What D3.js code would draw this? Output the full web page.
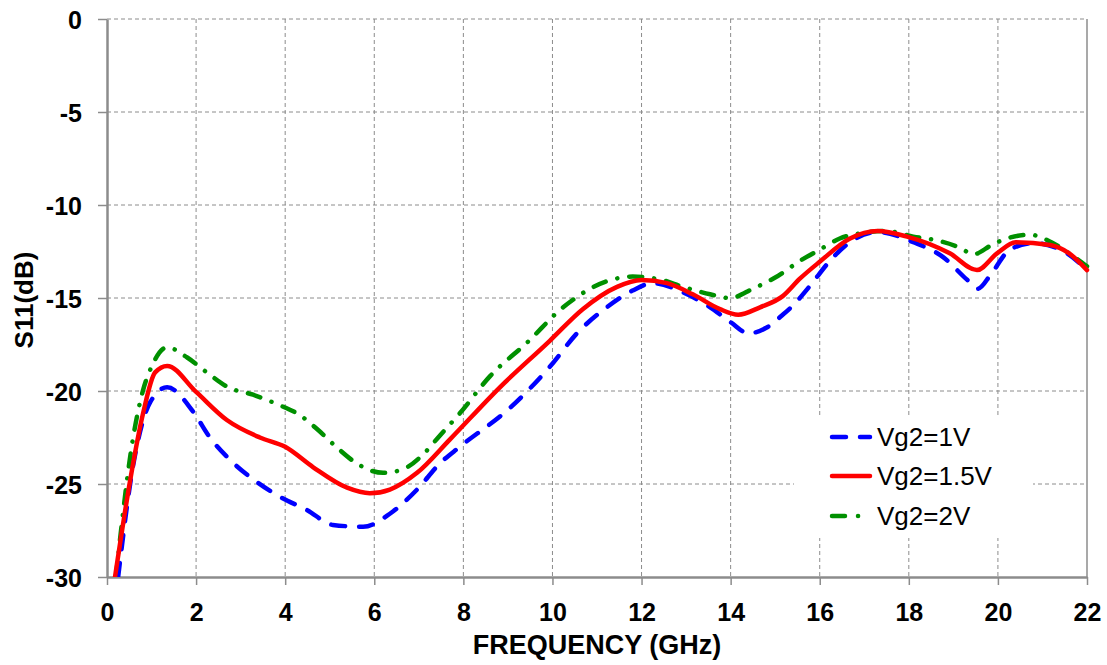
<!DOCTYPE html>
<html>
<head>
<meta charset="utf-8">
<script src="https://cdn.jsdelivr.net/npm/d3@7"></script>
<style>
  html, body { margin: 0; padding: 0; background: #fff; }
  svg { display: block; font-family: "Liberation Sans", Arial, sans-serif; }
</style>
</head>
<body>
<svg id="chart" width="1107" height="665"></svg>
<script>
// ---- data ----
const seriesNames = ["Vg2=1V", "Vg2=1.5V", "Vg2=2V"];
const seriesColors = ["#0000ff", "#ff0000", "#009000"];

const freq1V = [0.25,0.58,0.97,1.35,1.93,2.31,2.76,3.37,3.93,4.49,5.07,5.75,6.35,6.96,7.47,7.92,9.05,9.94,10.55,11.22,11.8,12.26,12.93,13.54,14.0,14.4,14.8,15.17,15.4,15.78,16.23,16.68,17.3,18.1,18.77,19.3,19.55,19.85,20.27,20.8,21.55,22.0];
const s11_1V = [-30,-24.1,-20.6,-19.8,-21.1,-22.5,-23.7,-24.9,-25.75,-26.4,-27.2,-27.3,-26.6,-25.3,-23.9,-23.0,-20.9,-18.7,-16.9,-15.5,-14.6,-14.2,-14.7,-15.5,-16.3,-16.9,-16.6,-15.9,-15.4,-14.35,-13.0,-12.0,-11.45,-12.0,-12.8,-14.0,-14.5,-13.7,-12.4,-12.05,-12.6,-13.5];

const freq15V = [0.18,0.52,0.81,1.08,1.35,2.0,2.69,3.43,4.0,4.63,5.39,5.9,6.35,6.96,7.7,8.82,9.94,10.68,11.45,12.0,12.57,13.15,13.76,14.17,14.66,15.17,15.56,16.0,16.68,17.3,17.96,18.92,19.53,19.98,20.4,21.17,21.6,22.0];
const s11_15V = [-30,-24.8,-21.2,-19.0,-18.65,-20.05,-21.56,-22.5,-23.0,-24.1,-25.2,-25.5,-25.3,-24.4,-22.6,-19.8,-17.3,-15.6,-14.4,-14.03,-14.2,-14.8,-15.6,-15.9,-15.5,-14.9,-13.95,-13.05,-11.8,-11.4,-11.7,-12.6,-13.5,-12.6,-12.0,-12.15,-12.6,-13.5];

const freq2V = [0.2,0.58,0.81,1.0,1.35,1.8,2.24,2.72,3.28,3.81,4.33,4.74,5.19,5.61,6.2,6.65,7.1,7.47,7.92,8.6,9.43,10.24,11.22,11.8,12.41,12.93,13.54,13.98,14.5,15.0,15.56,16.0,16.45,16.97,17.5,18.1,18.63,19.15,19.45,19.86,20.2,20.72,21.2,21.6,22.0];
const s11_2V = [-30,-22.6,-19.95,-18.7,-17.65,-18.2,-19.0,-19.8,-20.2,-20.7,-21.3,-22.1,-23.1,-23.9,-24.4,-24.2,-23.4,-22.4,-21.2,-19.2,-17.4,-15.5,-14.1,-13.85,-14.0,-14.4,-14.8,-15.0,-14.5,-13.9,-13.0,-12.4,-11.8,-11.5,-11.4,-11.7,-11.9,-12.3,-12.65,-12.15,-11.8,-11.6,-12.0,-12.6,-13.3];

const xTicks = [0,2,4,6,8,10,12,14,16,18,20,22];
const yTicks = [0,-5,-10,-15,-20,-25,-30];
const xTitle = "FREQUENCY (GHz)";
const yTitle = "S11(dB)";

// ---- layout ----
const svg = d3.select("#chart");
const L = 107, T = 19, R = 1087, B = 577;
const x = d3.scaleLinear().domain([0, 22]).range([L, R]);
const y = d3.scaleLinear().domain([-30, 0]).range([B, T]);
const axisColor = "#8c8c8c";
const fmt = d => String(d);   // plain hyphen-minus like the reference

// gridlines
const grid = svg.append("g");
grid.selectAll("line.gx").data(xTicks.filter(d => d > 0 && d < 22)).join("line")
  .attr("x1", d => x(d)).attr("x2", d => x(d)).attr("y1", T).attr("y2", B)
  .attr("stroke", "#8c8c8c").attr("stroke-width", 1).attr("stroke-dasharray", "4,3");
grid.selectAll("line.gy").data(yTicks.filter(d => d > -30)).join("line")
  .attr("x1", L).attr("x2", R).attr("y1", d => y(d)).attr("y2", d => y(d))
  .attr("stroke", "#8c8c8c").attr("stroke-width", 1).attr("stroke-dasharray", "4,3");
// right border
svg.append("line").attr("x1", R).attr("x2", R).attr("y1", T).attr("y2", B)
  .attr("stroke", axisColor).attr("stroke-width", 1.5);

// axes
const yAxis = svg.append("g").attr("transform", `translate(${L},0)`)
  .call(d3.axisLeft(y).tickValues(yTicks).tickSize(9).tickSizeOuter(0).tickPadding(16).tickFormat(fmt));
const xAxis = svg.append("g").attr("transform", `translate(0,${B})`)
  .call(d3.axisBottom(x).tickValues(xTicks).tickSize(8).tickSizeOuter(0).tickPadding(14).tickFormat(fmt));
[xAxis, yAxis].forEach(a => {
  a.select(".domain").attr("stroke", axisColor).attr("stroke-width", 2.5);
  a.selectAll(".tick line").attr("stroke", axisColor).attr("stroke-width", 1.5);
  a.selectAll(".tick text").attr("fill", "#000").attr("font-size", 25).attr("font-weight", "bold")
    .attr("font-family", "'Liberation Sans', Arial, sans-serif");
});
yAxis.selectAll(".tick text").attr("x", -25).attr("dy", "0.36em");
xAxis.selectAll(".tick text").attr("dy", "0.78em").attr("y", 24);

// titles
svg.append("text").attr("x", (L + R) / 2).attr("y", 654).attr("text-anchor", "middle")
  .attr("font-size", 27).attr("font-weight", "bold").text(xTitle);
svg.append("text").attr("transform", "translate(33,300) rotate(-90)").attr("text-anchor", "middle")
  .attr("font-size", 26).attr("font-weight", "bold").text(yTitle);

// series
const series = [
  { name: seriesNames[0], color: seriesColors[0], f: freq1V, v: s11_1V, dash: "14,14" },
  { name: seriesNames[1], color: seriesColors[1], f: freq15V, v: s11_15V, dash: null },
  { name: seriesNames[2], color: seriesColors[2], f: freq2V, v: s11_2V, dash: "13,12,0.1,12" }
];
const line = d3.line().x(d => x(d[0])).y(d => y(d[1])).curve(d3.curveMonotoneX);
const clip = svg.append("clipPath").attr("id", "clip").append("rect")
  .attr("x", L).attr("y", T - 3).attr("width", R - L + 3).attr("height", B - T + 3);
const plot = svg.append("g").attr("clip-path", "url(#clip)");
// draw order: green, blue, red on top
[series[2], series[0], series[1]].forEach(s => {
  plot.append("path").datum(s.f.map((f, i) => [f, s.v[i]]))
    .attr("d", line).attr("fill", "none").attr("stroke", s.color)
    .attr("stroke-width", 4.5).attr("stroke-linecap", "round").attr("stroke-linejoin", "round")
    .attr("stroke-dasharray", s.dash);
});

// legend
const lg = svg.append("g");
lg.append("rect").attr("x", 794).attr("y", 417).attr("width", 239).attr("height", 121).attr("fill", "#fff");
const rowsY = [437, 476, 516];
series.forEach((s, i) => {
  lg.append("line").attr("x1", 832).attr("x2", 870).attr("y1", rowsY[i]).attr("y2", rowsY[i])
    .attr("stroke", s.color).attr("stroke-width", 4.5).attr("stroke-linecap", "round")
    .attr("stroke-dasharray", s.dash ? (i === 0 ? "14,14" : "13,13,0.1,13") : null);
  lg.append("text").attr("x", 877).attr("y", rowsY[i]).attr("dy", "0.36em")
    .attr("font-size", 26).attr("fill", "#000").text(s.name);
});
</script>
</body>
</html>
